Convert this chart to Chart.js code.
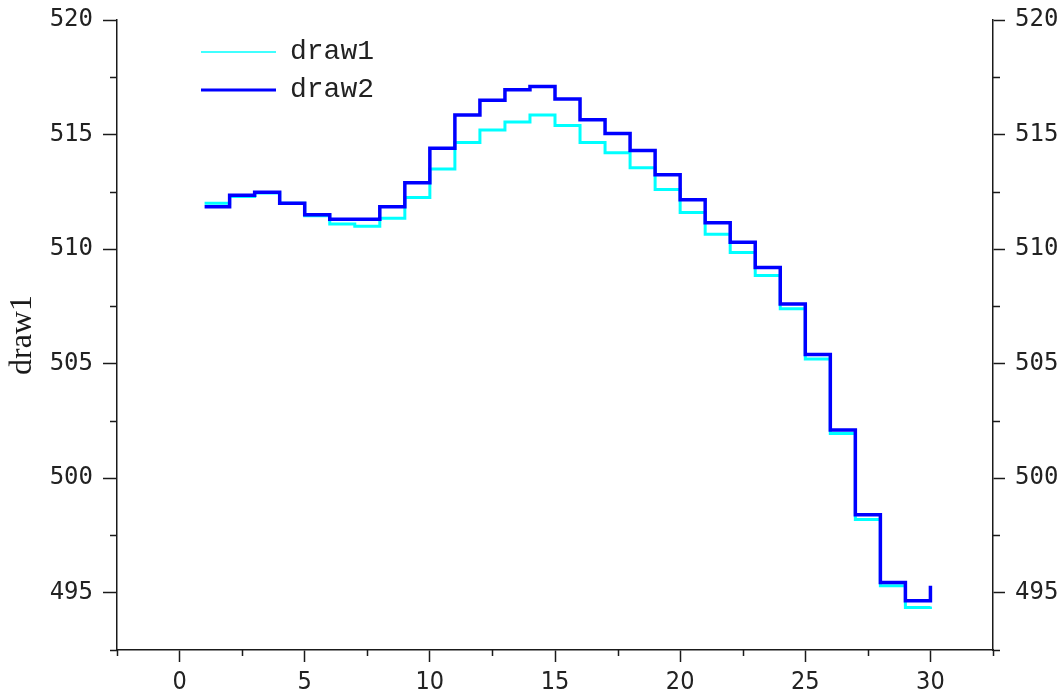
<!DOCTYPE html>
<html>
<head>
<meta charset="utf-8">
<title>draw1 / draw2</title>
<script src="https://cdn.jsdelivr.net/npm/chart.js@4.4.1/dist/chart.umd.min.js"></script>
<style>
  html, body { margin: 0; padding: 0; background: #fff; }
  #wrap { position: relative; width: 1063px; height: 700px; }
</style>
</head>
<body>
<div id="wrap"><canvas id="chart"></canvas></div>
<script>
// ===== DATA =====
const xValues = [1, 2, 3, 4, 5, 6, 7, 8, 9, 10, 11, 12, 13, 14, 15, 16, 17, 18, 19, 20, 21, 22, 23, 24, 25, 26, 27, 28, 29, 30];

const draw1 = [512.0, 512.3, 512.45, 512.0, 511.45, 511.1, 511.0, 511.35, 512.25, 513.5,
               514.65, 515.2, 515.55, 515.85, 515.4, 514.65, 514.2, 513.55, 512.6, 511.6,
               510.65, 509.85, 508.85, 507.4, 505.2, 501.95, 498.2, 495.3, 494.35, 494.4];

const draw2 = [511.85, 512.35, 512.48, 512.0, 511.5, 511.3, 511.3, 511.85, 512.9, 514.4,
               515.85, 516.5, 516.95, 517.1, 516.55, 515.65, 515.05, 514.3, 513.25, 512.15,
               511.15, 510.3, 509.2, 507.6, 505.4, 502.1, 498.4, 495.45, 494.65, 495.3];

const xTicks = [0, 5, 10, 15, 20, 25, 30];
const xMinorTicks = [-2.5, 2.5, 7.5, 12.5, 17.5, 22.5, 27.5, 32.5];
const yTicks = [495, 500, 505, 510, 515, 520];
const yMinorTicks = [492.5, 497.5, 502.5, 507.5, 512.5, 517.5];

const AXIS = '#1a1a1a';
const TEXT = '#222';

const toPoints = arr => arr.map((v, i) => ({ x: xValues[i], y: v }));

// minor ticks (short) drawn through the scales
const minorTicks = {
  id: 'minorTicks',
  afterDraw(chart) {
    const { ctx, chartArea: a } = chart;
    const sx = chart.scales.x, sy = chart.scales.y;
    ctx.save();
    ctx.strokeStyle = AXIS;
    ctx.lineWidth = 1.5;
    ctx.beginPath();
    xMinorTicks.forEach(v => {
      const px = Math.round(sx.getPixelForValue(v)) + 0.5;
      ctx.moveTo(px, a.bottom);
      ctx.lineTo(px, a.bottom + 6);
    });
    yMinorTicks.forEach(v => {
      const py = Math.round(sy.getPixelForValue(v)) + 0.5;
      ctx.moveTo(a.left, py);
      ctx.lineTo(a.left - 7, py);
      ctx.moveTo(a.right, py);
      ctx.lineTo(a.right + 7, py);
    });
    ctx.stroke();
    ctx.restore();
  }
};

// put the legend at the upper left inside the plot
const legendPlace = {
  id: 'legendPlace',
  afterLayout(chart) {
    if (!chart.legend) return;
    chart.legend.left = chart.chartArea.left + 74;
    chart.legend.top = chart.chartArea.top + 8;
  }
};

const axisGrid = len => ({
  drawOnChartArea: false, drawTicks: true, tickLength: len, tickColor: AXIS, tickWidth: 1.5
});

// fixed axis width, no extra top/bottom room for the end labels
const fitY = w => s => { s.width = w; s.paddingTop = 0; s.paddingBottom = 0; };

new Chart(document.getElementById('chart'), {
  type: 'line',
  data: {
    datasets: [
      { label: 'draw1', data: toPoints(draw1), borderColor: '#00FFFF', borderWidth: 3,
        stepped: 'before', pointRadius: 0, fill: false, order: 1 },
      { label: 'draw2', data: toPoints(draw2), borderColor: '#0000FF', borderWidth: 3.5,
        stepped: 'before', pointRadius: 0, fill: false, order: 0 }
    ]
  },
  options: {
    responsive: true, maintainAspectRatio: false, animation: false,
    layout: { autoPadding: false, padding: { top: 20, left: 0, right: 0, bottom: 0 } },
    plugins: {
      tooltip: { enabled: false },
      legend: {
        position: 'chartArea', align: 'start',
        labels: {
          usePointStyle: true, pointStyleWidth: 75, padding: 10,
          font: { family: '"Liberation Mono", "DejaVu Sans Mono", monospace', size: 28 },
          color: TEXT,
          generateLabels: chart => chart.data.datasets.map((d, i) => ({
            text: d.label, pointStyle: 'line', strokeStyle: d.borderColor, fillStyle: d.borderColor,
            lineWidth: i === 0 ? 1.5 : 3, fontColor: TEXT, hidden: false, datasetIndex: i
          }))
        }
      }
    },
    scales: {
      x: {
        type: 'linear', min: -2.5, max: 32.5,
        afterBuildTicks: s => { s.ticks = xTicks.map(v => ({ value: v })); },
        afterFit: s => { s.height = 50; },
        grid: axisGrid(12),
        border: { display: true, color: AXIS, width: 1.5 },
        ticks: {
          padding: 5, color: TEXT, maxRotation: 0,
          font: { family: '"Liberation Sans Narrow", "DejaVu Sans Condensed", sans-serif', size: 25 }
        }
      },
      y: {
        type: 'linear', position: 'left', min: 492.5, max: 520,
        afterBuildTicks: s => { s.ticks = yTicks.map(v => ({ value: v })); },
        afterFit: fitY(117),
        grid: axisGrid(14),
        border: { display: true, color: AXIS, width: 1.5 },
        ticks: { padding: 10, color: TEXT, font: { family: '"DejaVu Sans Mono", monospace', size: 24 } },
        title: {
          display: true, text: 'draw1', color: '#1a1a1a', padding: { top: 3, bottom: 0 },
          font: { family: '"Liberation Serif", serif', size: 32 }
        }
      },
      y2: {
        type: 'linear', position: 'right', min: 492.5, max: 520,
        afterBuildTicks: s => { s.ticks = yTicks.map(v => ({ value: v })); },
        afterFit: fitY(70),
        grid: axisGrid(12),
        border: { display: true, color: AXIS, width: 1.5 },
        ticks: { padding: 10, color: TEXT, font: { family: '"DejaVu Sans Mono", monospace', size: 24 } }
      }
    }
  },
  plugins: [minorTicks, legendPlace]
});
</script>
</body>
</html>
